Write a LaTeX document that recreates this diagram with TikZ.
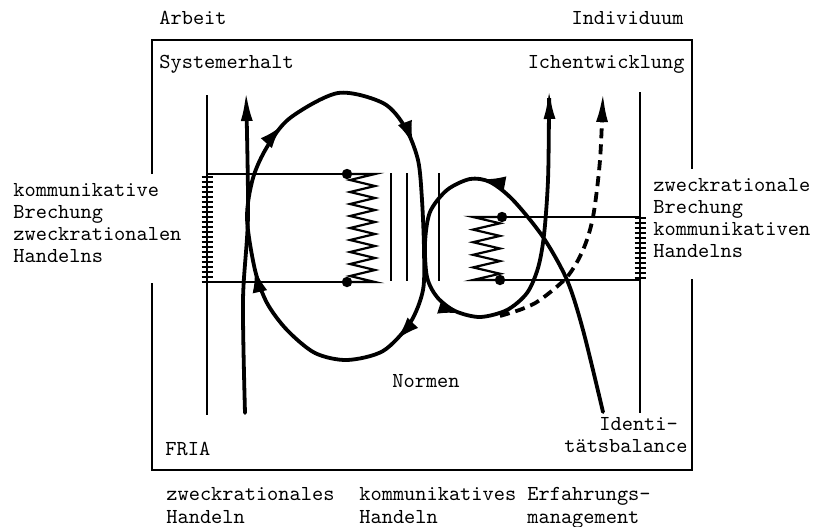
\documentclass[tikz,border=0pt]{standalone}
\usepackage{fontspec}
\usetikzlibrary{arrows.meta,decorations.markings}
\tikzset{
  bigtip/.tip={Latex[length=15pt,width=6pt]},
  midtip/.tip={Latex[length=12pt,width=7.5pt]},
}

\begin{document}
\begin{tikzpicture}[x=0.5pt,y=-0.5pt,
    lbl/.style={inner sep=0pt, font=\ttfamily\fontsize{10.67}{11.15}\selectfont},
    flowline/.style={line width=1.9pt, line cap=round},
    thinline/.style={line width=0.85pt},
    springline/.style={line width=1.1pt, line join=miter},
    boxline/.style={line width=1.1pt}]
    \useasboundingbox (0,0) rectangle (818,526);

    % Frame, open where the side labels stand
    \draw[boxline] (152,174) -- (152,40) -- (692,40) -- (692,169);
    \draw[boxline] (152,283) -- (152,470) -- (692,470) -- (692,279);

    % Inner verticals with ladder ticks
    \coordinate (lvtop) at (207,95);
    \coordinate (lvbot) at (207,415);
    \coordinate (rvtop) at (640,92);
    \coordinate (rvbot) at (640,413);
    \draw[thinline] (lvtop) -- (lvbot);
    \draw[thinline] (rvtop) -- (rvbot);
    \foreach \y in {177,182,...,282} \draw[thinline] (201.5,\y) -- (212.5,\y);
    \foreach \y in {218,223,...,278} \draw[thinline] (634.5,\y) -- (645.5,\y);

    % Left spring
    \coordinate (la) at (347,174);
    \coordinate (lb) at (347,282);
    \draw[thinline] (lvtop|-la) -- (la);
    \draw[thinline] (lvtop|-lb) -- (lb);
    \draw[springline] (la) -- (375,174)
        \foreach \i in {1,...,18} { -- ({362.5+12.5*cos(180*\i)},{174+108*\i/18}) } -- (lb);
    \fill (la) circle (2.6pt);
    \fill (lb) circle (2.6pt);

    % Right spring
    \coordinate (ra) at (502,217);
    \coordinate (rb) at (500,280);
    \draw[thinline] (rvtop|-ra) -- (ra);
    \draw[thinline] (rvtop|-rb) -- (rb);
    \draw[springline] (ra) -- (473,217)
        \foreach \i in {1,...,10} { -- ({486.5-13.5*cos(180*\i)},{217+63*\i/10}) } -- (rb);
    \fill (ra) circle (2.6pt);
    \fill (rb) circle (2.6pt);

    % Middle verticals
    \foreach \x in {391,407,439} \draw[thinline] (\x,173) -- (\x,281);

    % Big loop
    \draw[flowline, postaction={decorate}, decoration={markings,
        mark=at position 0.085 with {\arrow{midtip}},
        mark=at position 0.315 with {\arrow{midtip}},
        mark=at position 0.6 with {\arrow{midtip}},
        mark=at position 0.872 with {\arrow{midtip}}}]
        plot[smooth cycle] coordinates {(247,218) (253,178) (267,147) (290,118)
        (338,93) (383,103) (405,127) (418,160) (422,200) (424,250) (423,290)
        (410,323) (383,351) (347,360) (315,353) (287,330) (267,303) (255,270)};

    % Systemerhalt arrow
    \draw[flowline, -{bigtip}] plot[smooth] coordinates {(245,413) (243,300) (248,215) (246,91)};

    % Small loop from Identitaetsbalance up to Ichentwicklung
    \draw[flowline, -{bigtip}, postaction={decorate}, decoration={markings,
        mark=at position 0.37 with {\arrow{midtip}},
        mark=at position 0.62 with {\arrow{midtip}}}]
        plot[smooth] coordinates {(603,412) (583,330) (567,280) (543,237)
        (513,200) (490,182) (470,179) (447,190) (430,212) (425,243) (427,277)
        (437,297) (455,311) (480,317) (507,310) (527,293) (538,268) (544,235)
        (548,180) (549,110) (549,89)};

    % Dashed branch
    \draw[flowline, line cap=butt, dash pattern=on 5pt off 3pt, -{bigtip}]
        plot[smooth] coordinates {(500,316) (522,309) (540,300) (567,277)
        (583,250) (593,217) (600,160) (603,92)};

    % Labels
    \node[lbl, anchor=base west] (arbeit) at (159,24) {Arbeit};
    \node[lbl, anchor=base east] (individuum) at (684,24) {Individuum};
    \node[lbl, anchor=base west] (systemerhalt) at (159,68) {Systemerhalt};
    \node[lbl, anchor=base east] (ichentw) at (685,68) {Ichentwicklung};
    \foreach \t [count=\i] in {kommunikative,Brechung,zweckrationalen,Handelns}
        \node[lbl, anchor=base west] (kbrech\i) at (13,{196+22.3*(\i-1)}) {\t};
    \foreach \t [count=\i] in {zweckrationale,Brechung,kommunikativen,Handelns}
        \node[lbl, anchor=base west] (zbrech\i) at (653,{191+22.3*(\i-1)}) {\t};
    \node[lbl, anchor=base west] (normen) at (392,387) {Normen};
    \node[lbl, anchor=base west] (identi) at (599,430) {Identi-};
    \node[lbl, anchor=base east] (balance) at (688,452) {tätsbalance};
    \node[lbl, anchor=base west] (fria) at (165,455) {FRIA};
    \node[lbl, anchor=base west] (zweck1) at (166,500) {zweckrationales};
    \node[lbl, anchor=base west] (zweck2) at (166,523) {Handeln};
    \node[lbl, anchor=base west] (komm1) at (359,500) {kommunikatives};
    \node[lbl, anchor=base west] (komm2) at (359,523) {Handeln};
    \node[lbl, anchor=base west] (erf1) at (527,500) {Erfahrungs-};
    \node[lbl, anchor=base west] (erf2) at (527,523) {management};
\end{tikzpicture}
\end{document}
